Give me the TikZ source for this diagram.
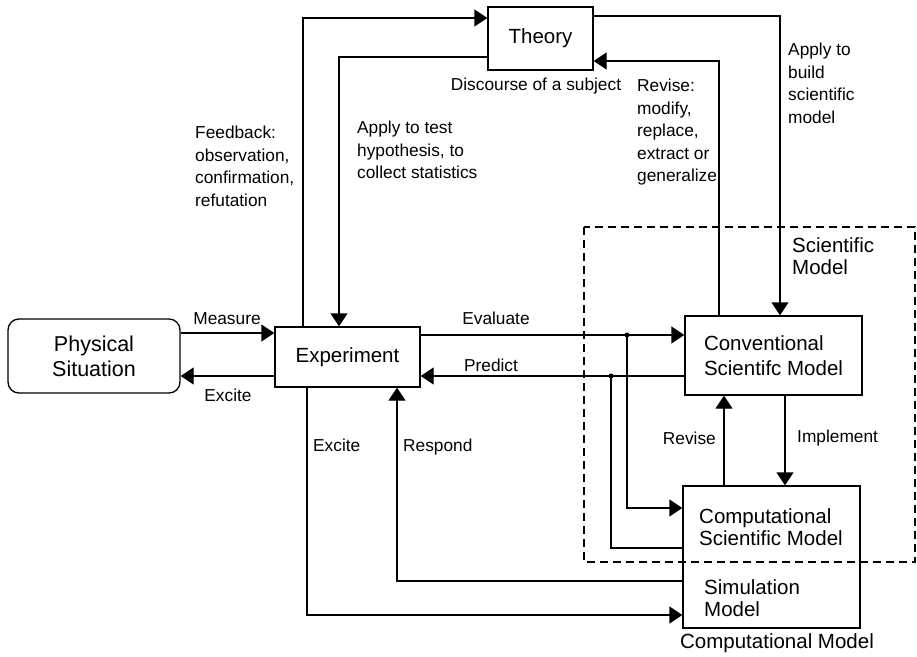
\documentclass[tikz,border=0pt]{standalone}
\usepackage{fontspec}
\setmainfont{Liberation Sans}
\usetikzlibrary{arrows.meta}

\tikzset{
  box/.style={draw, line width=1.3pt, inner sep=0pt, align=left,
              font=\fontsize{20.5}{25}\selectfont},
  lbl/.style={inner sep=0pt, align=left, font=\fontsize{17.3}{22.5}\selectfont},
  big/.style={inner sep=0pt, align=left, font=\fontsize{20.5}{22.5}\selectfont},
  wire/.style={line width=1.3pt},
  arr/.style={wire, -{Triangle[length=13pt, width=17pt]}},
  junction/.style={circle, fill, inner sep=0pt, minimum size=5pt},
  scope box/.style={line width=1.3pt, dash pattern=on 8pt off 5pt}
}

\begin{document}
\begin{tikzpicture}[x=1pt, y=-1pt]
\useasboundingbox (0,0) rectangle (917,656);

% main blocks
\node[box, rounded corners=11pt, minimum width=172pt, minimum height=74pt, align=center,
      font=\fontsize{21.5}{25}\selectfont]
  (phys) at (94,356) {Physical\\Situation};
\node[box, minimum width=145pt, minimum height=60pt] (exp) at (347.5,357) {Experiment};
\node[box, minimum width=105pt, minimum height=63pt] (theory) at (540.5,38.5) {Theory};
\node[box, minimum width=177pt, minimum height=79pt] (conv) at (773.5,355.5)
  {Conventional\\Scientifc Model};
\node[box, minimum width=177pt, minimum height=142pt] (comp) at (771.5,557) {};

% text inside the computational block
\node[big, anchor=north west] (compsci) at (699,508) {Computational\\Scientific Model};
\node[big, anchor=north west] (simmod) at (704,579) {Simulation\\Model};
\node[big] (compmodel) at (777,643) {Computational Model};

% scientific model boundary
\draw[scope box] (584,227) rectangle (915,562);
\node[big, anchor=north west] (scimodel) at (792,237) {Scientific\\Model};

% physical situation <-> experiment
\draw[arr] (phys.east |- 0,333) -- (exp.west |- 0,333);
\draw[arr] (exp.west |- 0,376) -- (phys.east |- 0,376);
\node[lbl] (measure) at (227,319) {Measure};
\node[lbl] (excite1) at (228,395) {Excite};

% experiment <-> theory
\draw[arr] (exp.north -| 303,0) |- (theory.west |- 0,18);
\draw[arr] (theory.west |- 0,57) -| (exp.north -| 339,0);
\node[lbl, anchor=north west] (feedback) at (195,126)
  {Feedback:\\observation,\\confirmation,\\refutation};
\node[lbl, anchor=north west] (applytest) at (357,121)
  {Apply to test\\hypothesis, to\\collect statistics};
\node[lbl] (discourse) at (536,86) {Discourse of a subject};

% theory <-> conventional model
\draw[arr] (conv.north -| 719,0) |- (theory.east |- 0,61);
\draw[arr] (theory.east |- 0,16) -| (conv.north -| 780,0);
\node[lbl, anchor=north west] (revisetheory) at (637,79)
  {Revise:\\modify,\\replace,\\extract or\\generalize};
\node[lbl, anchor=north west] (applybuild) at (788,43)
  {Apply to\\build\\scientific\\model};

% evaluate / predict
\coordinate (evalj) at (627,335);
\coordinate (predj) at (611,376);
\draw[arr] (exp.east |- evalj) -- (conv.west |- evalj);
\draw[arr] (evalj) |- (comp.west |- 0,508);
\draw[arr] (conv.west |- predj) -- (exp.east |- predj);
\draw[wire] (comp.west |- 0,548) -| (predj);
\node[junction] (evaldot) at (evalj) {};
\node[junction] (preddot) at (predj) {};
\node[lbl] (evaluate) at (496,318) {Evaluate};
\node[lbl] (predict) at (491,365) {Predict};

% conventional <-> computational
\draw[arr] (comp.north -| 724,0) -- (conv.south -| 724,0);
\draw[arr] (conv.south -| 785,0) -- (comp.north -| 785,0);
\node[lbl, anchor=east] (revise2) at (716,438) {Revise};
\node[lbl, anchor=west] (implement) at (797,438) {Implement};

% experiment <-> simulation
\draw[arr] (comp.west |- 0,581) -| (exp.south -| 397,0);
\draw[arr] (exp.south -| 307,0) |- (comp.west |- 0,615);
\node[lbl, anchor=west] (excite2) at (313,445) {Excite};
\node[lbl, anchor=west] (respond) at (403,447) {Respond};
\end{tikzpicture}
\end{document}
